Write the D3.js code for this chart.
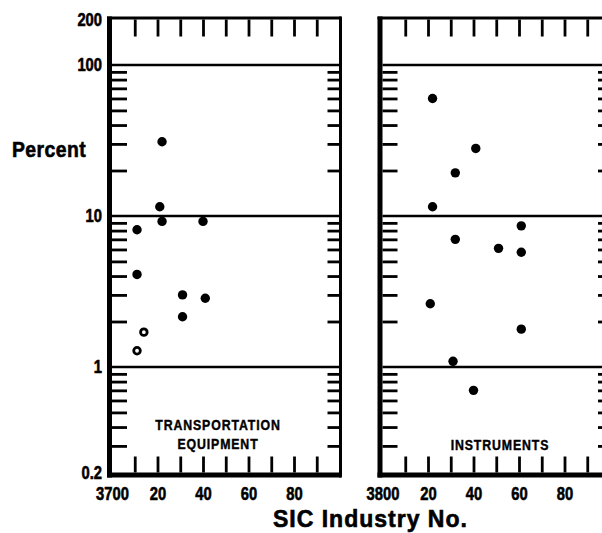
<!DOCTYPE html>
<meta charset="utf-8">
<script src="https://d3js.org/d3.v7.min.js"></script>
<style>
  body { margin: 0; background: #fff; }
  svg { display: block; }
  text { font-family: "Liberation Sans", Arial, sans-serif; font-weight: bold; fill: #000; stroke: #000; stroke-width: 0.6px; }
  .tick line { stroke: #000; }
</style>
<body>
<div id="canvas"></div>
<script>

// SIC code within the 37xx / 38xx group, and percent values
var transSic  = [11, 11, 11, 14, 21, 22, 22, 31, 31, 40, 41];
var transPct  = [8.1, 4.1, 1.28, 1.7, 11.5, 9.2, 31, 3.0, 2.15, 9.2, 2.85];
var transOpen = [false, false, true, true, false, false, false, false, false, false, false];

var instrSic  = [22, 41, 32, 22, 61, 32, 51, 61, 21, 61, 31, 40];
var instrPct  = [60, 28, 19.3, 11.5, 8.6, 7.0, 6.1, 5.75, 2.62, 1.78, 1.09, 0.70];
var instrOpen = [false, false, false, false, false, false, false, false, false, false, false, false];

var yLabels = [0.2, 1, 10, 100, 200];
var gridVals = [1, 10, 100];
var minorVals = [0.3, 0.4, 0.5, 0.6, 0.7, 0.8, 0.9, 2, 3, 4, 5, 6, 7, 8, 9, 20, 30, 40, 50, 60, 70, 80, 90];
var xLabels = [0, 20, 40, 60, 80];

var width = 602, height = 533;

var svg = d3.select('#canvas')
    .append('svg')
    .attr('width', width)
    .attr('height', height);

// log scale shared by both panels
var y = d3.scaleLog().domain([0.2, 200]).range([472.5, 19.5]);
var yTop = y(200), yBot = y(0.2);

var panels = [
    { left: 112, right: 339.5, base: '3700', sic: transSic, pct: transPct, open: transOpen,
      label: ['TRANSPORTATION', 'EQUIPMENT'], labelX: 218, labelY: 430 },
    { left: 382.5, right: 610, base: '3800', sic: instrSic, pct: instrPct, open: instrOpen,
      label: ['INSTRUMENTS'], labelX: 500, labelY: 450 }
];

panels.forEach(function(p) {
    var x = d3.scaleLinear().domain([0, 100]).range([p.left, p.right]);
    var g = svg.append('g');

    // horizontal decade lines
    g.selectAll('line.grid').data(gridVals).enter().append('line')
        .attr('x1', x(0)).attr('x2', x(100))
        .attr('y1', function(d) { return y(d); })
        .attr('y2', function(d) { return y(d); })
        .attr('stroke', '#000').attr('stroke-width', 2.5);

    // inner ticks -------------------------------
    var topAx = g.append('g').attr('transform', 'translate(0,' + yTop + ')')
        .call(d3.axisBottom(x).tickValues(d3.range(10, 100, 10)).tickSize(17).tickFormat(''));
    var botAx = g.append('g').attr('transform', 'translate(0,' + yBot + ')')
        .call(d3.axisTop(x).tickValues(d3.range(10, 100, 10)).tickSize(16).tickFormat(''));
    var leftAx = g.append('g').attr('transform', 'translate(' + x(0) + ',0)')
        .call(d3.axisRight(y).tickValues(minorVals).tickSize(15).tickFormat(''));
    var rightAx = g.append('g').attr('transform', 'translate(' + x(100) + ',0)')
        .call(d3.axisLeft(y).tickValues(minorVals).tickSize(12).tickFormat(''));
    [topAx, botAx, leftAx, rightAx].forEach(function(a) {
        a.select('.domain').remove();
        a.selectAll('line').attr('stroke-width', 2.8);
    });

    // frame
    g.append('line').attr('x1', x(0) - 5).attr('x2', x(100) + 1.5)
        .attr('y1', yTop - 1.5).attr('y2', yTop - 1.5)
        .attr('stroke', '#000').attr('stroke-width', 3);
    g.append('line').attr('x1', x(0) - 5).attr('x2', x(100) + 1.5)
        .attr('y1', yBot + 2.5).attr('y2', yBot + 2.5)
        .attr('stroke', '#000').attr('stroke-width', 5);
    g.append('line').attr('x1', x(0) - 2.5).attr('x2', x(0) - 2.5)
        .attr('y1', yTop - 3).attr('y2', yBot + 5)
        .attr('stroke', '#000').attr('stroke-width', 5);
    g.append('line').attr('x1', x(100) + 1).attr('x2', x(100) + 1)
        .attr('y1', yTop - 3).attr('y2', yBot + 5)
        .attr('stroke', '#000').attr('stroke-width', 3);

    // x labels
    var xAx = g.append('g').attr('transform', 'translate(0,500)')
        .call(d3.axisBottom(x).tickValues(xLabels).tickSize(0)
            .tickFormat(function(d) { return d === 0 ? p.base : d; }));
    xAx.select('.domain').remove();
    xAx.selectAll('text').attr('y', 0).attr('dy', 0)
        .attr('transform', 'scale(0.82,1)')
        .style('font-size', '18px');

    // panel label
    g.selectAll('text.plabel').data(p.label).enter().append('text')
        .attr('class', 'plabel')
        .attr('transform', function(d, i) {
            return 'translate(' + p.labelX + ',' + (p.labelY + i * 19) + ') scale(0.88,1)';
        })
        .attr('text-anchor', 'middle')
        .style('font-size', '14px')
        .style('letter-spacing', '1px')
        .style('stroke-width', '0.4px')
        .text(function(d) { return d; });

    // points
    g.selectAll('circle').data(p.sic).enter().append('circle')
        .attr('cx', function(d) { return x(d); })
        .attr('cy', function(d, i) { return y(p.pct[i]); })
        .attr('r', function(d, i) { return p.open[i] ? 3.3 : 4.7; })
        .attr('fill', function(d, i) { return p.open[i] ? '#fff' : '#000'; })
        .attr('stroke', '#000')
        .attr('stroke-width', function(d, i) { return p.open[i] ? 2.8 : 0; });
});

// y labels on the left panel only
var yAx = svg.append('g').attr('transform', 'translate(102,0)')
    .call(d3.axisLeft(y).tickValues(yLabels).tickSize(0).tickPadding(0)
        .tickFormat(function(d) { return d; }));
yAx.select('.domain').remove();
yAx.selectAll('text')
    .attr('transform', 'scale(0.82,1)')
    .style('font-size', '18px');

svg.append('text')
    .attr('transform', 'translate(12,157) scale(0.88,1)')
    .style('font-size', '22px')
    .style('letter-spacing', '0.5px')
    .text('Percent');

svg.append('text')
    .attr('x', 273).attr('y', 527)
    .style('font-size', '23px')
    .style('letter-spacing', '1px')
    .text('SIC Industry No.');

</script>
</body>
